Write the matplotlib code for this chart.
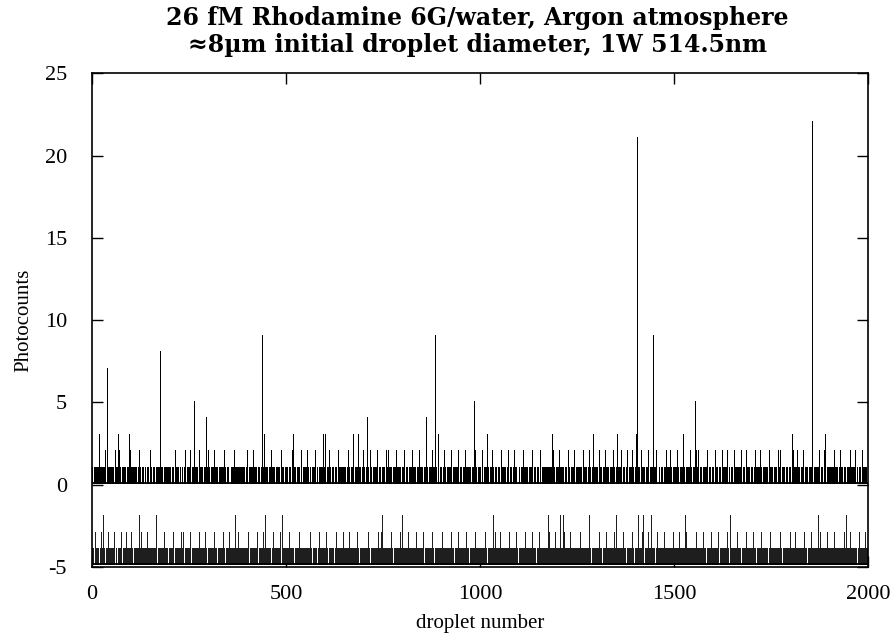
import numpy as np
import matplotlib
matplotlib.use("Agg")
import matplotlib.pyplot as plt

# ---------------- data ----------------
# per-droplet photocounts of the sample trace (values 0-2), spikes listed separately
top_rows = [
    "1100011010 0110100121 1000110101 1101200011 0111000110 1010110002 1100100101 0211000010 1011011000 0110001211",
    "1000110110 1101100001 0120110000 1010001010 0110100001 1201000110 1100010110 1000121011 0110000101 1011010001",
    "0110001101 1000211010 1101000110 0111000012 1000110101 1102100001 0110001110 1000020110 1101100010 0110000121",
    "1010000110 1101002101 0110000101 1000101010 2101100001 0110000011 1010121000 1101000110 0001011010 1010000102",
    "1100001011 0110200001 1011000110 1100001021 0110000101 1010001010 1200010110 1000101101 0110000210 1101000011",
    "0110000101 1000021011 1101000010 0110100020 1000010111 1101200010 0110000101 1010210001 1100010110 0111020001",
    "1000010110 1201100001 0110001101 1000121010 1100011011 0110000102 1011000010 1102000011 0110001101 1000010120",
    "1100001010 0110002101 1000010110 1101200001 0111000110 1010000121 1100210001 0110001101 1000021010 1101100001",
    "0110200001 1011000010 1101002110 0110000101 1002101101 1100001010 0120100000 1011000211 1101000010 0110001101",
    "1000110120 1100001011 0111020000 1010000101 1101200001 0110000110 1021000010 1101100001 0110000201 1000010110",
    "1100021000 0110000112 1000010110 1201100001 0110000101 1000211011 1100010000 0112000010 1000010121 1101100000",
    "0110000101 1021000110 1100001011 0110120000 1011000110 1100021000 0110001101 1000101101 1101000020 0110000101",
    "1000021010 1101100001 0110000201 1000110110 1121000010 0110001101 1000012110 1101100001 0120100001 1000010110",
    "1100001021 0110000101 1002010110 1100001011 0110211000 1000010110 1101200001 0110000121 1000110101 1102100001",
    "0110000101 1000021010 1101000011 0120100001 1000110110 1101210000 0110001101 1000010112 1100001010 0211000011",
    "1000110120 1100001011 0110210000 1011000110 1201100001 0110000121 1021000110 1100001011 0110120000 1011000010",
    "1100021001 0110000101 1002101101 1101000020 0110000101 1000012110 1101100001 0120100001 1000021010 1101100001",
    "0110000121 1011000110 1102100001 0110001101 1000021010 1101000011 0110000120 1012000010 1101100001 0110000101",
    "1000012110 1101100021 0110000101 1021000010 1101000011 0110120000 1011000110 1102100001 0110000121 1000010110",
    "1100001010 0120100001 1000010211 1101000010 0110001101 1002101101 1101000020 0110000101 1000021011 1101100000",
]
top_spike_droplets = [18, 38, 67, 96, 175, 263, 294, 438, 443, 518, 595, 600, 673, 686, 709,
                      861, 884, 892, 984, 1018, 1185, 1291, 1353, 1402, 1405, 1446, 1523, 1554,
                      1804, 1856, 1889]
top_spike_counts = [3, 7, 3, 3, 8, 5, 4, 9, 3, 3, 3, 3, 3, 3, 4,
                    4, 9, 3, 5, 3, 3, 3, 3, 3, 21, 9, 3, 5,
                    3, 22, 3]

# per-droplet photocounts of the blank trace (values 0-2), spikes listed separately
bottom_rows = [
    "1111000121 1101111000 0111211101 1110000111 1211011101 1100012110 0111000111 1101211000 1110111012 1000101111",
    "1121100010 1110111101 0001012111 1101111000 1112011101 0001101111 1101121000 1011110111 1000112101 0111100010",
    "1101111021 1000110111 0111100012 1101211000 1011101110 1112000101 0111101111 1000111201 1110110111 0121100010",
    "1011100011 1101210110 1000111011 0111101121 1100011011 1011210111 1000111101 0111011211 1100010111 1011101101",
    "1112000011 0111101110 1101121000 1110110111 0211100001 1101111011 1000102111 1110111011 0111211000 1101101111",
    "1000110121 1101101110 0001101101 1110211011 1100010111 0111101101 1012110001 1101101110 0001121101 1110110111",
    "1101211000 1011101110 1110000121 0111101101 1101112000 1011101110 0112100011 1101101101 1110211000 0111101110",
    "1101110111 1021100001 1110111011 0001101121 1101210111 1000101110 1110111101 0121100011 1101110111 1011201000",
    "1110111011 0001121101 1101101111 1000102111 1110111011 0112100010 1101111011 1011101211 1000110111 0111101101",
    "1121100010 1101111011 0111012111 1100001110 1110211011 0111101101 1101121111 1000101110 1110110121 0111100011",
    "1101111011 1012110000 1110111011 0111101121 1100011011 1021101110 1110111101 0001012111 1101101110 1011211000",
    "1110111011 0111101201 1100011011 1011211110 1110000111 0121101101 1101110111 1000101120 1110111011 0111211101",
    "1101100011 1011102111 1110111011 0112100010 1101111011 1011101211 1000110111 0111101101 1121100010 1101111011",
    "0111012111 1100001110 1110211011 0111101101 1101121111 1000101110 1110110121 0111100011 1101111011 1012110000",
    "1110111011 0111101121 1100011011 1021101110 1110111101 0001012111 1101101110 1011211000 1110111011 0111101201",
    "1101111011 1011211110 1000110111 0121101101 1101110111 1011100020 1110111011 0111211101 1100001111 1011102111",
    "1110111011 0112100010 1101111011 1011101211 1000110111 0111101101 1121101110 1100011011 0111012111 1101101110",
    "1110211011 0001101101 1101121111 1011101110 1000110121 0111101111 1101111011 1012110000 1110111011 0111101121",
    "1101111011 1021100010 1110111101 0111012111 1100001110 1011211011 1110111011 0001101201 1101111011 1011211110",
    "1110110111 0121100001 1101110111 1011101120 1000111011 0111211101 1101101111 1000102111 1110111011 0112101110",
]
bottom_spike_droplets = [28, 121, 165, 368, 446, 489, 747, 798, 1033, 1175, 1206, 1214, 1281,
                         1350, 1407, 1420, 1440, 1528, 1644, 1871, 1943]
bottom_spike_counts = [3] * len(bottom_spike_droplets)

bottom_offset = -4.85
title_lines = ["26 fM Rhodamine 6G/water, Argon atmosphere",
               "\u22488\u00b5m initial droplet diameter, 1W 514.5nm"]
x_ticks = [0, 500, 1000, 1500, 2000]
y_ticks = [-5, 0, 5, 10, 15, 20, 25]


def build(rows, idx, vals):
    s = "".join(r.replace(" ", "") for r in rows)
    arr = np.array([int(c) for c in s], dtype=float)
    for i, v in zip(idx, vals):
        if i < len(arr):
            arr[i] = v
    return arr


top = build(top_rows, top_spike_droplets, top_spike_counts)
bot = build(bottom_rows, bottom_spike_droplets, bottom_spike_counts)

# ---------------- figure ----------------
fig = plt.figure(figsize=(8.92, 6.37), dpi=100)
ax = fig.add_axes([0.103, 0.110, 0.870, 0.775])

xt = np.arange(len(top))
ax.vlines(xt, 0.1, 0.1 + top, color="black", linewidth=0.5, antialiased=False)
ax.hlines(0.12, 0, len(top), color="black", linewidth=1.3)
xb = np.arange(len(bot))
ax.vlines(xb, bottom_offset, bottom_offset + bot, color="#1e1e1e", linewidth=0.5,
          antialiased=False)
ax.hlines(bottom_offset + 0.03, 0, len(bot), color="black", linewidth=1.3)

ax.set_xlim(0, 2000)
ax.set_ylim(-5, 25)
ax.set_xticks(x_ticks)
ax.set_yticks(y_ticks)
ax.set_xticklabels([str(t) for t in x_ticks])
ax.set_yticklabels([str(t) for t in y_ticks])
ax.tick_params(direction="in", length=8, width=1.0, top=True, right=True,
               labelsize=16)
ax.tick_params(axis="y", pad=18)
ax.tick_params(axis="x", pad=13)
for lab in ax.get_xticklabels() + ax.get_yticklabels():
    lab.set_family("Liberation Serif")
for sp in ax.spines.values():
    sp.set_linewidth(1.2)

ax.set_xlabel("droplet number", fontsize=15, family="Liberation Serif", labelpad=7)
ax.set_ylabel("Photocounts", fontsize=15, family="Liberation Serif", labelpad=8)

fig.text(0.535, 0.99, title_lines[0], ha="center", va="top", fontsize=17,
         fontweight="bold", family=["DejaVu Serif"])
fig.text(0.535, 0.948, title_lines[1], ha="center", va="top", fontsize=17,
         fontweight="bold", family=["DejaVu Serif"])

fig.savefig("out.png", dpi=100)
